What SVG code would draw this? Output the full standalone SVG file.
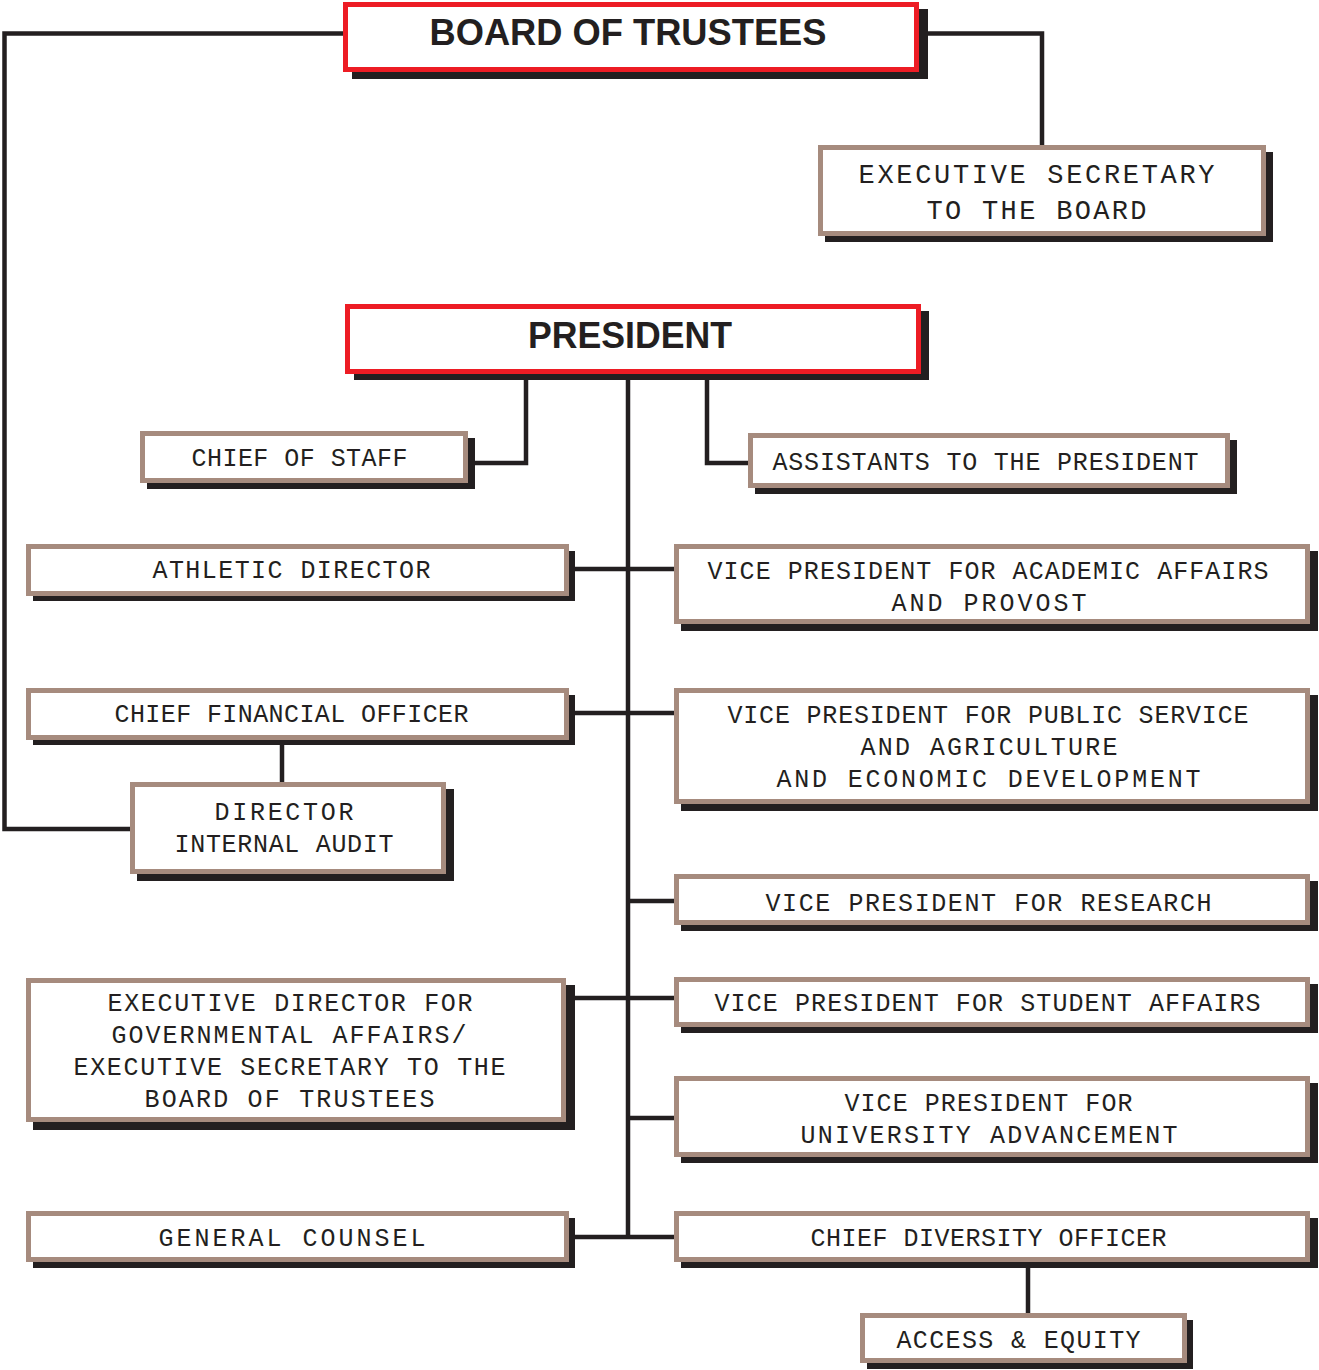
<svg xmlns="http://www.w3.org/2000/svg" width="1319" height="1370" viewBox="0 0 1319 1370">
<style>
.sh{fill:#231f20}
.bx{fill:#ffffff;stroke:#a68b7e;stroke-width:5}
.rb{fill:#ffffff;stroke:#ed1c24;stroke-width:5}
.t{font-family:"Liberation Mono","Courier New",monospace;font-size:25px;fill:#231f20;text-anchor:middle}
.ts{font-family:"Liberation Mono","Courier New",monospace;font-size:27px;fill:#231f20;text-anchor:middle}
.h{font-family:"Liberation Sans",Arial,sans-serif;font-size:36px;font-weight:bold;fill:#231f20;text-anchor:middle}
.c{fill:none;stroke:#231f20;stroke-width:4.5}
</style>
<rect width="1319" height="1370" fill="#ffffff"/>
<g id="connectors">
<path class="c" d="M343,33.5 H4.5 V829 H130"/>
<path class="c" d="M919,33.5 H1042 V145"/>
<path class="c" d="M628,374 V1237"/>
<path class="c" d="M526,374 V463 H468"/>
<path class="c" d="M707,374 V463 H748"/>
<path class="c" d="M569,569 H674"/>
<path class="c" d="M569,713 H674"/>
<path class="c" d="M282,740 V782"/>
<path class="c" d="M628,901 H674"/>
<path class="c" d="M566,998 H674"/>
<path class="c" d="M628,1118 H674"/>
<path class="c" d="M569,1237 H674"/>
<path class="c" d="M1028,1262 V1313"/>
</g>
<g id="board">
<rect class="sh" x="352" y="9" width="576" height="70"/>
<rect class="rb" x="345.5" y="4.5" width="571" height="65"/>
<text class="h" x="628" y="45" textLength="397" lengthAdjust="spacingAndGlyphs">BOARD OF TRUSTEES</text>
</g>
<g id="exec-secretary">
<rect class="sh" x="825" y="152" width="448" height="90"/>
<rect class="bx" x="820.5" y="147.5" width="443" height="86"/>
<text class="ts" x="1036.5" y="183" textLength="356">EXECUTIVE SECRETARY</text>
<text class="ts" x="1036.5" y="219" textLength="220">TO THE BOARD</text>
</g>
<g id="president">
<rect class="sh" x="354" y="311" width="575" height="69"/>
<rect class="rb" x="347.5" y="306.5" width="571" height="65"/>
<text class="h" x="630" y="348" textLength="204" lengthAdjust="spacingAndGlyphs">PRESIDENT</text>
</g>
<g id="chief-of-staff">
<rect class="sh" x="147" y="438" width="328" height="51"/>
<rect class="bx" x="142.5" y="433.5" width="323" height="47"/>
<text class="t" x="299.5" y="465.5" textLength="216">CHIEF OF STAFF</text>
</g>
<g id="assistants">
<rect class="sh" x="755" y="440" width="482" height="54"/>
<rect class="bx" x="750.5" y="435.5" width="477" height="50"/>
<text class="t" x="985.5" y="469.5" textLength="426">ASSISTANTS TO THE PRESIDENT</text>
</g>
<g id="athletic-director">
<rect class="sh" x="33" y="551" width="542" height="50"/>
<rect class="bx" x="28.5" y="546.5" width="538" height="47"/>
<text class="t" x="291.5" y="577.5" textLength="278">ATHLETIC DIRECTOR</text>
</g>
<g id="vp-academic">
<rect class="sh" x="681" y="551" width="637" height="80"/>
<rect class="bx" x="676.5" y="546.5" width="631" height="75"/>
<text class="t" x="988" y="578.5" textLength="561">VICE PRESIDENT FOR ACADEMIC AFFAIRS</text>
<text class="t" x="989" y="610.5" textLength="195">AND PROVOST</text>
</g>
<g id="cfo">
<rect class="sh" x="33" y="695" width="542" height="50"/>
<rect class="bx" x="28.5" y="690.5" width="538" height="47"/>
<text class="t" x="291.5" y="721.5" textLength="354">CHIEF FINANCIAL OFFICER</text>
</g>
<g id="vp-public-service">
<rect class="sh" x="681" y="695" width="637" height="116"/>
<rect class="bx" x="676.5" y="690.5" width="631" height="111"/>
<text class="t" x="988" y="722.5" textLength="521">VICE PRESIDENT FOR PUBLIC SERVICE</text>
<text class="t" x="989" y="754.5" textLength="257">AND AGRICULTURE</text>
<text class="t" x="988.5" y="786.5" textLength="424">AND ECONOMIC DEVELOPMENT</text>
</g>
<g id="internal-audit">
<rect class="sh" x="137" y="789" width="317" height="92"/>
<rect class="bx" x="132.5" y="784.5" width="311" height="87"/>
<text class="t" x="284" y="819.5" textLength="139">DIRECTOR</text>
<text class="t" x="284" y="851.5" textLength="219">INTERNAL AUDIT</text>
</g>
<g id="vp-research">
<rect class="sh" x="681" y="881" width="637" height="50"/>
<rect class="bx" x="676.5" y="876.5" width="631" height="46"/>
<text class="t" x="988.5" y="910.5" textLength="446">VICE PRESIDENT FOR RESEARCH</text>
</g>
<g id="exec-director">
<rect class="sh" x="33" y="985" width="542" height="145"/>
<rect class="bx" x="28.5" y="980.5" width="535" height="139"/>
<text class="t" x="290" y="1010.5" textLength="365">EXECUTIVE DIRECTOR FOR</text>
<text class="t" x="289" y="1042.5" textLength="355">GOVERNMENTAL AFFAIRS/</text>
<text class="t" x="289.5" y="1074.5" textLength="432">EXECUTIVE SECRETARY TO THE</text>
<text class="t" x="289.5" y="1106.5" textLength="290">BOARD OF TRUSTEES</text>
</g>
<g id="vp-student">
<rect class="sh" x="681" y="984" width="637" height="49"/>
<rect class="bx" x="676.5" y="979.5" width="631" height="45"/>
<text class="t" x="987.5" y="1010.5" textLength="546">VICE PRESIDENT FOR STUDENT AFFAIRS</text>
</g>
<g id="vp-advancement">
<rect class="sh" x="681" y="1083" width="637" height="80"/>
<rect class="bx" x="676.5" y="1078.5" width="631" height="76"/>
<text class="t" x="988.5" y="1110.5" textLength="288">VICE PRESIDENT FOR</text>
<text class="t" x="989" y="1142.5" textLength="377">UNIVERSITY ADVANCEMENT</text>
</g>
<g id="general-counsel">
<rect class="sh" x="33" y="1218" width="542" height="50"/>
<rect class="bx" x="28.5" y="1213.5" width="538" height="46"/>
<text class="t" x="292" y="1245.5" textLength="267">GENERAL COUNSEL</text>
</g>
<g id="chief-diversity">
<rect class="sh" x="681" y="1218" width="637" height="50"/>
<rect class="bx" x="676.5" y="1213.5" width="631" height="46"/>
<text class="t" x="988.5" y="1245.5" textLength="356">CHIEF DIVERSITY OFFICER</text>
</g>
<g id="access-equity">
<rect class="sh" x="867" y="1320" width="326" height="49"/>
<rect class="bx" x="862.5" y="1315.5" width="322" height="45"/>
<text class="t" x="1018.5" y="1347.5" textLength="244">ACCESS &amp; EQUITY</text>
</g>
</svg>
